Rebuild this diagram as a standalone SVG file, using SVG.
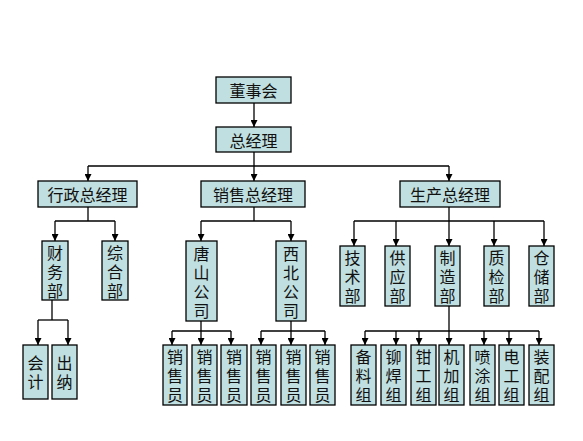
<svg xmlns="http://www.w3.org/2000/svg" width="583" height="441" viewBox="0 0 583 441">
<style>
.b{fill:#C0DFE0;stroke:#000;stroke-width:1.3}
.t{font-family:"Noto Sans CJK SC","Noto Sans CJK JP",sans-serif;font-size:16px;fill:#111;text-anchor:middle;dominant-baseline:central}
.v{writing-mode:vertical-rl;letter-spacing:3px}
.c line{stroke:#000;stroke-width:1.3}
.c .a{marker-end:url(#ar)}
</style>
<defs>
<marker id="ar" markerUnits="userSpaceOnUse" markerWidth="7" markerHeight="7" refX="7" refY="3.5" orient="auto">
<path d="M0,0 L7,3.5 L0,7 z" fill="#000"/>
</marker>
</defs>
<rect width="583" height="441" fill="#fff"/>
<g class="c" id="connectors">
<line class="a" x1="254" y1="103" x2="254" y2="127"/>
<line x1="254" y1="152" x2="254" y2="166"/>
<line x1="88" y1="166" x2="449" y2="166"/>
<line class="a" x1="88" y1="166" x2="88" y2="181"/>
<line class="a" x1="254" y1="166" x2="254" y2="181"/>
<line class="a" x1="449" y1="166" x2="449" y2="181"/>
<line x1="88" y1="207" x2="88" y2="221"/>
<line x1="55" y1="221" x2="115" y2="221"/>
<line class="a" x1="55" y1="221" x2="55" y2="241"/>
<line class="a" x1="115" y1="221" x2="115" y2="241"/>
<line x1="52" y1="300" x2="52" y2="320"/>
<line x1="38" y1="320" x2="68" y2="320"/>
<line class="a" x1="38" y1="320" x2="38" y2="345"/>
<line class="a" x1="68" y1="320" x2="68" y2="345"/>
<line x1="254" y1="207" x2="254" y2="221"/>
<line x1="201" y1="221" x2="291" y2="221"/>
<line class="a" x1="201" y1="221" x2="201" y2="241"/>
<line class="a" x1="291" y1="221" x2="291" y2="241"/>
<line x1="201" y1="321" x2="201" y2="331"/>
<line x1="172" y1="331" x2="231" y2="331"/>
<line class="a" x1="172" y1="331" x2="172" y2="345"/>
<line class="a" x1="201" y1="331" x2="201" y2="345"/>
<line class="a" x1="231" y1="331" x2="231" y2="345"/>
<line x1="291" y1="321" x2="291" y2="331"/>
<line x1="261" y1="331" x2="325" y2="331"/>
<line class="a" x1="261" y1="331" x2="261" y2="345"/>
<line class="a" x1="291" y1="331" x2="291" y2="345"/>
<line class="a" x1="325" y1="331" x2="325" y2="345"/>
<line x1="449" y1="207" x2="449" y2="221"/>
<line x1="354" y1="221" x2="544" y2="221"/>
<line class="a" x1="354" y1="221" x2="354" y2="246"/>
<line class="a" x1="396" y1="221" x2="396" y2="246"/>
<line class="a" x1="449" y1="221" x2="449" y2="246"/>
<line class="a" x1="494" y1="221" x2="494" y2="246"/>
<line class="a" x1="544" y1="221" x2="544" y2="246"/>
<line x1="449" y1="306" x2="449" y2="331"/>
<line x1="365" y1="331" x2="539" y2="331"/>
<line class="a" x1="365" y1="331" x2="365" y2="345"/>
<line class="a" x1="396" y1="331" x2="396" y2="345"/>
<line class="a" x1="419" y1="331" x2="419" y2="345"/>
<line class="a" x1="449" y1="331" x2="449" y2="345"/>
<line class="a" x1="484" y1="331" x2="484" y2="345"/>
<line class="a" x1="509" y1="331" x2="509" y2="345"/>
<line class="a" x1="539" y1="331" x2="539" y2="345"/>
</g>
<g id="dongshihui"><rect class="b" x="216" y="77" width="75" height="26"/><text class="t" x="253.5" y="90">董事会</text></g>
<g id="zongjingli"><rect class="b" x="216" y="127" width="75" height="25"/><text class="t" x="253.5" y="139.5">总经理</text></g>
<g id="xingzheng"><rect class="b" x="38" y="181" width="99" height="26"/><text class="t" x="87.5" y="194">行政总经理</text></g>
<g id="xiaoshou"><rect class="b" x="201" y="181" width="104" height="26"/><text class="t" x="253" y="194">销售总经理</text></g>
<g id="shengchan"><rect class="b" x="400" y="181" width="100" height="26"/><text class="t" x="450" y="194">生产总经理</text></g>
<g id="caiwubu"><rect class="b" x="42" y="241" width="26" height="59"/><text class="t v" x="55" y="273.5">财务部</text></g>
<g id="zonghebu"><rect class="b" x="102" y="241" width="26" height="59"/><text class="t v" x="115" y="273.5">综合部</text></g>
<g id="kuaiji"><rect class="b" x="23" y="345" width="25" height="54"/><text class="t v" x="35.5" y="374">会计</text></g>
<g id="chuna"><rect class="b" x="52" y="345" width="25" height="54"/><text class="t v" x="64.5" y="374">出纳</text></g>
<g id="tangshan"><rect class="b" x="186" y="241" width="31" height="80"/><text class="t v" x="201.5" y="283.5">唐山公司</text></g>
<g id="xibei"><rect class="b" x="276" y="241" width="30" height="80"/><text class="t v" x="291" y="283.5">西北公司</text></g>
<g id="xs1"><rect class="b" x="163" y="345" width="24" height="60"/><text class="t v" x="175" y="377.5">销售员</text></g>
<g id="xs2"><rect class="b" x="192" y="345" width="25" height="60"/><text class="t v" x="204.5" y="377.5">销售员</text></g>
<g id="xs3"><rect class="b" x="221" y="345" width="26" height="60"/><text class="t v" x="234" y="377.5">销售员</text></g>
<g id="xs4"><rect class="b" x="251" y="345" width="25" height="60"/><text class="t v" x="263.5" y="377.5">销售员</text></g>
<g id="xs5"><rect class="b" x="281" y="345" width="25" height="60"/><text class="t v" x="293.5" y="377.5">销售员</text></g>
<g id="xs6"><rect class="b" x="310" y="345" width="25" height="60"/><text class="t v" x="322.5" y="377.5">销售员</text></g>
<g id="jishubu"><rect class="b" x="340" y="246" width="25" height="60"/><text class="t v" x="352.5" y="278.5">技术部</text></g>
<g id="gongyingbu"><rect class="b" x="385" y="246" width="25" height="60"/><text class="t v" x="397.5" y="278.5">供应部</text></g>
<g id="zhizaobu"><rect class="b" x="435" y="246" width="25" height="60"/><text class="t v" x="447.5" y="278.5">制造部</text></g>
<g id="zhijianbu"><rect class="b" x="484" y="246" width="25" height="60"/><text class="t v" x="496.5" y="278.5">质检部</text></g>
<g id="cangchubu"><rect class="b" x="529" y="246" width="25" height="60"/><text class="t v" x="541.5" y="278.5">仓储部</text></g>
<g id="beiliao"><rect class="b" x="351" y="345" width="25" height="60"/><text class="t v" x="363.5" y="377.5">备料组</text></g>
<g id="maohan"><rect class="b" x="381" y="345" width="25" height="60"/><text class="t v" x="393.5" y="377.5">铆焊组</text></g>
<g id="qiangong"><rect class="b" x="411" y="345" width="25" height="60"/><text class="t v" x="423.5" y="377.5">钳工组</text></g>
<g id="jijia"><rect class="b" x="439" y="345" width="25" height="60"/><text class="t v" x="451.5" y="377.5">机加组</text></g>
<g id="pentu"><rect class="b" x="470" y="345" width="25" height="60"/><text class="t v" x="482.5" y="377.5">喷涂组</text></g>
<g id="diangong"><rect class="b" x="499" y="345" width="25" height="60"/><text class="t v" x="511.5" y="377.5">电工组</text></g>
<g id="zhuangpei"><rect class="b" x="529" y="345" width="25" height="60"/><text class="t v" x="541.5" y="377.5">装配组</text></g>
</svg>
